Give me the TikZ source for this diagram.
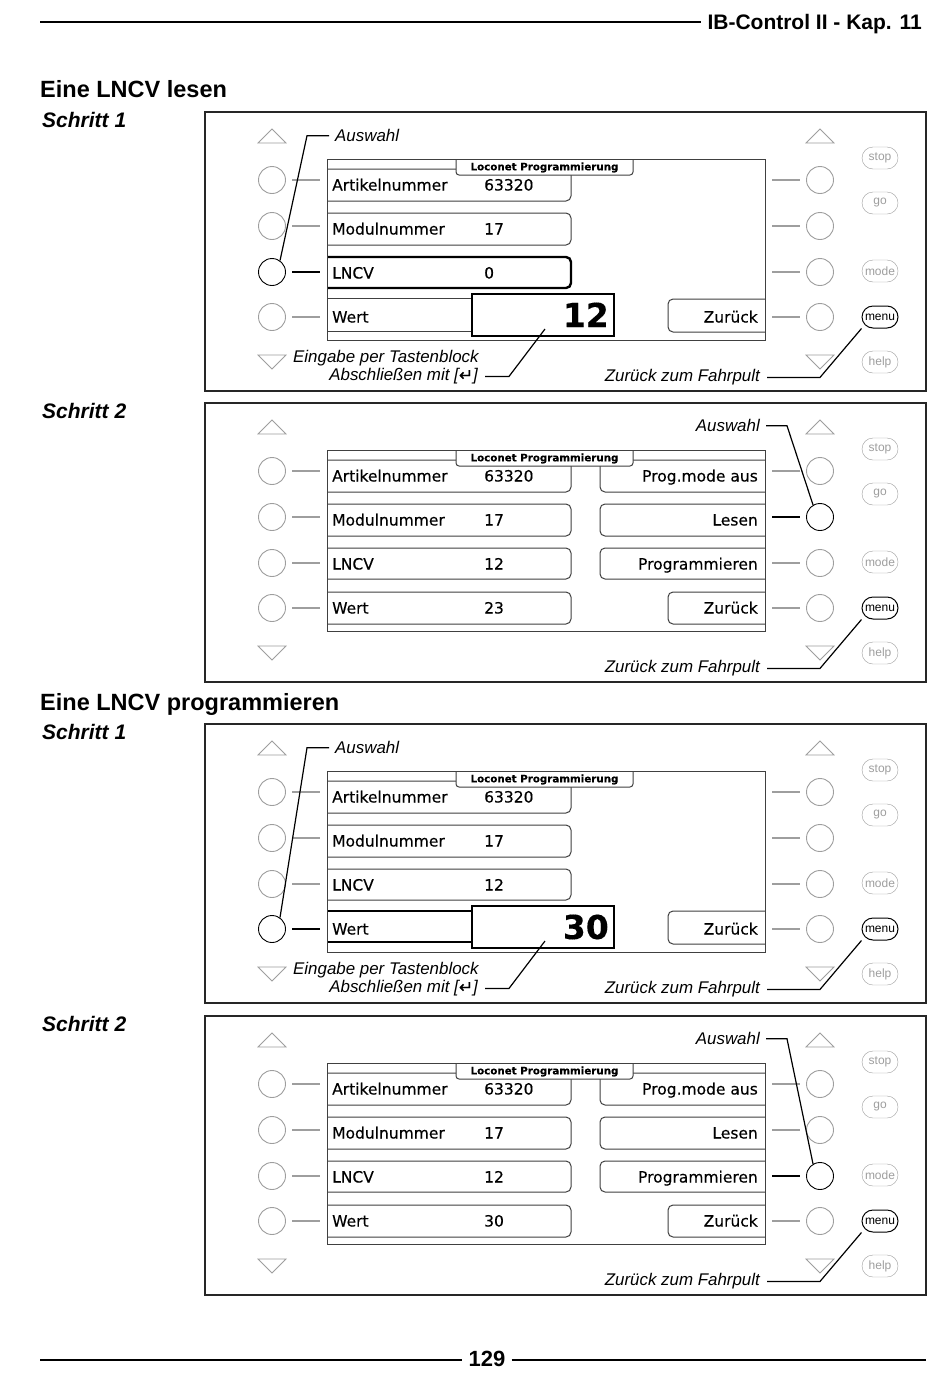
\documentclass[tikz,border=0pt]{standalone}
\usepackage{fontspec}
\setmainfont{Liberation Sans}
\newfontfamily\scrfont[FakeBold=0.25]{DejaVu Sans}
\definecolor{btn}{gray}{0.62}
\definecolor{scrline}{gray}{0.25}
\tikzset{
  frame/.style={draw=black!85, line width=1.8pt},
  key/.style={circle, draw=btn, line width=0.9pt, minimum size=27pt, inner sep=0pt},
  dashg/.style={draw=btn, line width=2pt},
  tri/.style={draw=btn, line width=0.8pt},
  side/.style={rectangle, draw=btn, rounded corners=11pt, minimum width=36pt, minimum height=22pt, inner sep=0pt, text=btn, font=\fontsize{12}{13}\selectfont},
  sidesel/.style={side, draw=black, text=black, line width=1pt},
  row/.style={draw=scrline, line width=1pt, rounded corners=5pt},
  rowsel/.style={draw=black, line width=2.4pt, rounded corners=5pt},
  scrbox/.style={draw=scrline, line width=1pt},
  valbox/.style={draw=black, line width=2pt},
  scrl/.style={inner sep=0pt, anchor=base west, font=\scrfont\fontsize{15.5}{18}\selectfont},
  scrr/.style={inner sep=0pt, anchor=base east, font=\scrfont\fontsize{15.5}{18}\selectfont},
  big/.style={inner sep=0pt, anchor=base east, font=\scrfont\bfseries\fontsize{33}{36}\selectfont},
  tabtxt/.style={inner sep=0pt, font=\scrfont\bfseries\fontsize{10.3}{11}\selectfont},
  notel/.style={inner sep=0pt, anchor=base west, font=\itshape\fontsize{16.9}{19}\selectfont},
  noter/.style={inner sep=0pt, anchor=base east, font=\itshape\fontsize{16.9}{19}\selectfont},
  lead/.style={draw=black, line width=1.2pt},
  schritt/.style={inner sep=0pt, anchor=base west, font=\bfseries\itshape\fontsize{21}{24}\selectfont},
  head/.style={inner sep=0pt, anchor=base west, font=\bfseries\fontsize{23.5}{28}\selectfont},
  sL1/.style={}, sL2/.style={}, sL3/.style={}, sL4/.style={},
  sR1/.style={}, sR2/.style={}, sR3/.style={}, sR4/.style={},
}
\newcommand\PanelBase[3]{%
\begin{scope}[shift={(0,#1)},#3]
\draw[frame] (205,0) rectangle (926,279);
\draw[tri] (258,31) -- (286,31) -- (272,17) -- cycle;
\draw[tri] (258,243) -- (286,243) -- (272,257) -- cycle;
\draw[tri] (806,31) -- (834,31) -- (820,17) -- cycle;
\draw[tri] (806,243) -- (834,243) -- (820,257) -- cycle;
\node[key,sL1] (#2L1) at (272,68) {};
\node[key,sL2] (#2L2) at (272,114) {};
\node[key,sL3] (#2L3) at (272,160) {};
\node[key,sL4] (#2L4) at (272,205) {};
\node[key,sR1] (#2R1) at (820,68) {};
\node[key,sR2] (#2R2) at (820,114) {};
\node[key,sR3] (#2R3) at (820,160) {};
\node[key,sR4] (#2R4) at (820,205) {};
\draw[dashg,sL1] ([xshift=6.5pt]#2L1.east) -- ++(28,0);
\draw[dashg,sL2] ([xshift=6.5pt]#2L2.east) -- ++(28,0);
\draw[dashg,sL3] ([xshift=6.5pt]#2L3.east) -- ++(28,0);
\draw[dashg,sL4] ([xshift=6.5pt]#2L4.east) -- ++(28,0);
\draw[dashg,sR1] ([xshift=-6.5pt]#2R1.west) -- ++(-28,0);
\draw[dashg,sR2] ([xshift=-6.5pt]#2R2.west) -- ++(-28,0);
\draw[dashg,sR3] ([xshift=-6.5pt]#2R3.west) -- ++(-28,0);
\draw[dashg,sR4] ([xshift=-6.5pt]#2R4.west) -- ++(-28,0);
\node[side] (#2stop) at (880,46) {stop};
\node[side] (#2go) at (880,91) {go};
\node[side] (#2mode) at (880,159) {mode};
\node[sidesel] (#2menu) at (880,205) {menu};
\node[side] (#2help) at (880,250) {help};
\end{scope}}
\newcommand\ScreenTop[1]{%
\draw[row, rounded corners=3pt, fill=white] (456,47) -- (456,63) -- (633,63) -- (633,47);
\node[tabtxt] (#1tab) at (544.5,55.5) {Loconet Programmierung};
\draw[scrbox] (327,47) rectangle (765,228);}
\newcommand\FahrNote[1]{%
\node[noter] (#1ZzF) at (760,269.8) {Zurück zum Fahrpult};
\draw[lead] ([xshift=7pt]#1ZzF.east) -- ++(53,0) -- (#1menu.south west);}
\begin{document}
\begin{tikzpicture}[x=1pt,y=-1pt]
\fill[white] (0,0) rectangle (950,1374);
\useasboundingbox (0,0) rectangle (950,1374);
% header and footer
\node[inner sep=0pt, anchor=base east, font=\bfseries\fontsize{21}{25}\selectfont] (hdr) at (922,29.5) {IB-Control II - Kap. 11};
\coordinate (hl) at (40,22);
\draw[line width=2pt] (hl) -- ([xshift=-6pt]hdr.west |- hl);
\node[inner sep=0pt, anchor=base, font=\bfseries\fontsize{22}{26}\selectfont] (pg) at (487,1366) {129};
\coordinate (fl) at (40,1360);
\coordinate (fr) at (926,1360);
\draw[line width=2pt] (fl) -- ([xshift=-6pt]pg.west |- fl);
\draw[line width=2pt] ([xshift=6pt]pg.east |- fr) -- (fr);
% headings
\node[head] (h1) at (40,97.5) {Eine LNCV lesen};
\node[schritt] (s1) at (42,127.5) {Schritt 1};
\node[schritt] (s2) at (42,418.5) {Schritt 2};
\node[head] (h2) at (40,710.5) {Eine LNCV programmieren};
\node[schritt] (s3) at (42,739.5) {Schritt 1};
\node[schritt] (s4) at (42,1031.5) {Schritt 2};
% ================= Panel 1
\PanelBase{112}{a}{sL3/.style={draw=black}}
\begin{scope}[shift={(0,112)}]
\draw[row] (327,57) -- (571,57) -- (571,89) -- (327,89);
\draw[row] (327,101) -- (571,101) -- (571,133) -- (327,133);
\draw[rowsel] (327,145) -- (571,145) -- (571,176) -- (327,176);
\draw[row] (327,186) -- (472,186) (327,219) -- (472,219);
\draw[row] (765,187) -- (668,187) -- (668,220) -- (765,220);
\ScreenTop{a}
\draw[valbox] (472,182) rectangle (614,224);
\node[scrl] (aT1) at (332,78.5) {Artikelnummer};
\node[scrl] (aV1) at (484,78.5) {63320};
\node[scrl] (aT2) at (332,122.5) {Modulnummer};
\node[scrl] (aV2) at (484,122.5) {17};
\node[scrl] (aT3) at (332,166.5) {LNCV};
\node[scrl] (aV3) at (484,166.5) {0};
\node[scrl] (aT4) at (332,210.5) {Wert};
\node[big] (aV4) at (609,215) {12};
\node[scrr] (aZ) at (758,210.5) {Zurück};
\node[notel] (aAus) at (335,29.8) {Auswahl};
\draw[lead] ([xshift=-6pt]aAus.west) -- ++(-22,0) -- (aL3.55);
\node[notel] (aEin) at (293,250.8) {Eingabe per Tastenblock};
\node[noter] (aAbs) at (478,268.8) {Abschließen mit [{\scrfont ↵}]};
\coordinate (aPt) at (545,217);
\draw[lead] ([xshift=7pt]aAbs.east) -- ++(24,0) -- (aPt);
\FahrNote{a}
\end{scope}
% ================= Panel 2
\PanelBase{403}{b}{sR2/.style={draw=black}}
\begin{scope}[shift={(0,403)}]
\draw[row] (327,57) -- (571,57) -- (571,89) -- (327,89);
\draw[row] (327,101) -- (571,101) -- (571,133) -- (327,133);
\draw[row] (327,145) -- (571,145) -- (571,176) -- (327,176);
\draw[row] (327,189) -- (571,189) -- (571,221) -- (327,221);
\draw[row] (765,57) -- (600,57) -- (600,89) -- (765,89);
\draw[row] (765,101) -- (600,101) -- (600,133) -- (765,133);
\draw[row] (765,145) -- (600,145) -- (600,176) -- (765,176);
\draw[row] (765,189) -- (668,189) -- (668,221) -- (765,221);
\ScreenTop{b}
\node[scrl] (bT1) at (332,78.5) {Artikelnummer};
\node[scrl] (bV1) at (484,78.5) {63320};
\node[scrl] (bT2) at (332,122.5) {Modulnummer};
\node[scrl] (bV2) at (484,122.5) {17};
\node[scrl] (bT3) at (332,166.5) {LNCV};
\node[scrl] (bV3) at (484,166.5) {12};
\node[scrl] (bT4) at (332,210.5) {Wert};
\node[scrl] (bV4) at (484,210.5) {23};
\node[scrr] (bB1) at (758,78.5) {Prog.mode aus};
\node[scrr] (bB2) at (758,122.5) {Lesen};
\node[scrr] (bB3) at (758,166.5) {Programmieren};
\node[scrr] (bB4) at (758,210.5) {Zurück};
\node[noter] (bAus) at (760,28.8) {Auswahl};
\draw[lead] ([xshift=6pt]bAus.east) -- ++(21,0) -- (bR2.120);
\FahrNote{b}
\end{scope}
% ================= Panel 3
\PanelBase{724}{c}{sL4/.style={draw=black}}
\begin{scope}[shift={(0,724)}]
\draw[row] (327,57) -- (571,57) -- (571,89) -- (327,89);
\draw[row] (327,101) -- (571,101) -- (571,133) -- (327,133);
\draw[row] (327,145) -- (571,145) -- (571,176) -- (327,176);
\draw[rowsel] (327,187) -- (472,187) (327,218) -- (472,218);
\draw[row] (765,187) -- (668,187) -- (668,220) -- (765,220);
\ScreenTop{c}
\draw[valbox] (472,182) rectangle (614,224);
\node[scrl] (cT1) at (332,78.5) {Artikelnummer};
\node[scrl] (cV1) at (484,78.5) {63320};
\node[scrl] (cT2) at (332,122.5) {Modulnummer};
\node[scrl] (cV2) at (484,122.5) {17};
\node[scrl] (cT3) at (332,166.5) {LNCV};
\node[scrl] (cV3) at (484,166.5) {12};
\node[scrl] (cT4) at (332,210.5) {Wert};
\node[big] (cV4) at (609,215) {30};
\node[scrr] (cZ) at (758,210.5) {Zurück};
\node[notel] (cAus) at (335,29.8) {Auswahl};
\draw[lead] ([xshift=-6pt]cAus.west) -- ++(-22,0) -- (cL4.55);
\node[notel] (cEin) at (293,250.8) {Eingabe per Tastenblock};
\node[noter] (cAbs) at (478,268.8) {Abschließen mit [{\scrfont ↵}]};
\coordinate (cPt) at (545,217);
\draw[lead] ([xshift=7pt]cAbs.east) -- ++(24,0) -- (cPt);
\FahrNote{c}
\end{scope}
% ================= Panel 4
\PanelBase{1016}{d}{sR3/.style={draw=black}}
\begin{scope}[shift={(0,1016)}]
\draw[row] (327,57) -- (571,57) -- (571,89) -- (327,89);
\draw[row] (327,101) -- (571,101) -- (571,133) -- (327,133);
\draw[row] (327,145) -- (571,145) -- (571,176) -- (327,176);
\draw[row] (327,189) -- (571,189) -- (571,221) -- (327,221);
\draw[row] (765,57) -- (600,57) -- (600,89) -- (765,89);
\draw[row] (765,101) -- (600,101) -- (600,133) -- (765,133);
\draw[row] (765,145) -- (600,145) -- (600,176) -- (765,176);
\draw[row] (765,189) -- (668,189) -- (668,221) -- (765,221);
\ScreenTop{d}
\node[scrl] (dT1) at (332,78.5) {Artikelnummer};
\node[scrl] (dV1) at (484,78.5) {63320};
\node[scrl] (dT2) at (332,122.5) {Modulnummer};
\node[scrl] (dV2) at (484,122.5) {17};
\node[scrl] (dT3) at (332,166.5) {LNCV};
\node[scrl] (dV3) at (484,166.5) {12};
\node[scrl] (dT4) at (332,210.5) {Wert};
\node[scrl] (dV4) at (484,210.5) {30};
\node[scrr] (dB1) at (758,78.5) {Prog.mode aus};
\node[scrr] (dB2) at (758,122.5) {Lesen};
\node[scrr] (dB3) at (758,166.5) {Programmieren};
\node[scrr] (dB4) at (758,210.5) {Zurück};
\node[noter] (dAus) at (760,28.8) {Auswahl};
\draw[lead] ([xshift=6pt]dAus.east) -- ++(21,0) -- (dR3.120);
\FahrNote{d}
\end{scope}
\end{tikzpicture}
\end{document}
